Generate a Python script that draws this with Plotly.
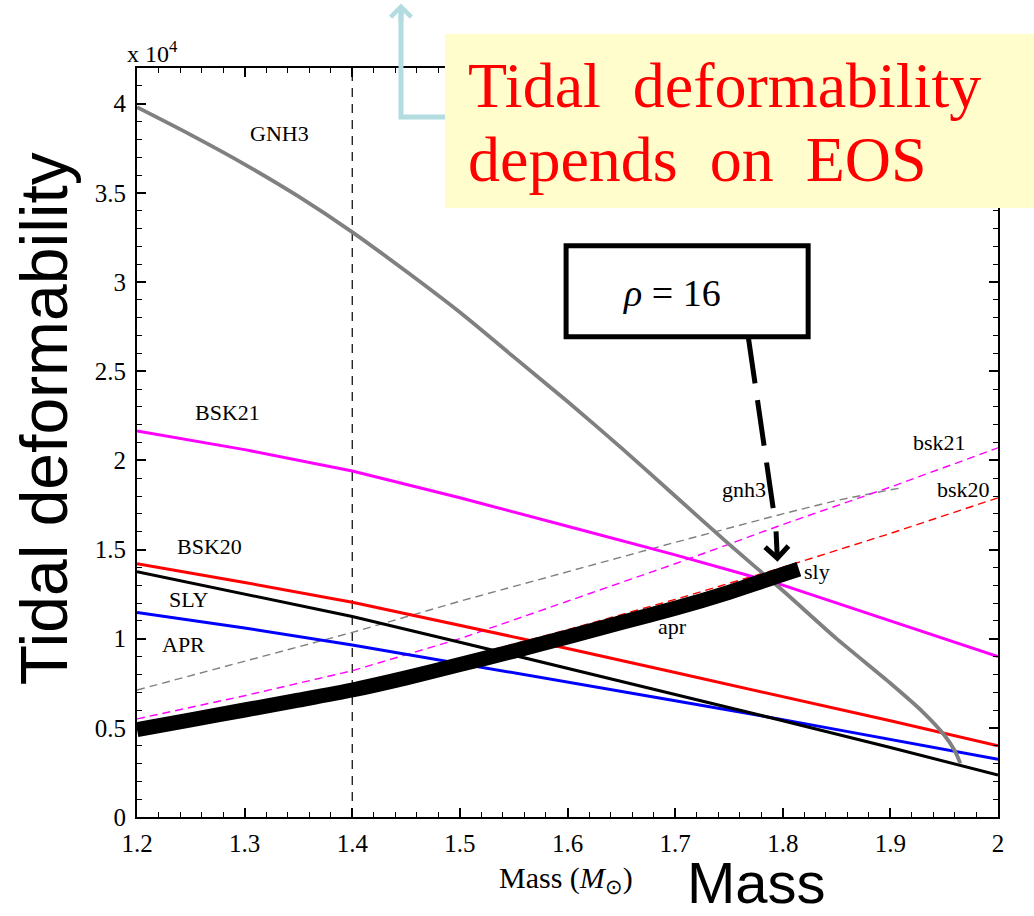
import plotly.graph_objects as go

# ---------------- data (tidal deformability in units of 10^4) ----------------
mass_grid = [1.2, 1.3, 1.4, 1.5, 1.6, 1.7, 1.8, 1.9, 2.0]

mass_gnh3 = [1.20, 1.25, 1.30, 1.35, 1.40, 1.45, 1.50, 1.55, 1.60, 1.65, 1.70,
             1.75, 1.80, 1.85, 1.90, 1.93, 1.95, 1.96, 1.965]
lam_gnh3 = [3.98, 3.825, 3.66, 3.48, 3.28, 3.06, 2.83, 2.58, 2.33, 2.07, 1.80,
            1.53, 1.27, 1.00, 0.75, 0.59, 0.46, 0.37, 0.30]

lam_bsk21 = [2.165, 2.06, 1.94, 1.79, 1.63, 1.47, 1.30, 1.10, 0.90]
lam_bsk20 = [1.42, 1.315, 1.204, 1.075, 0.945, 0.81, 0.675, 0.54, 0.40]
lam_sly = [1.376, 1.25, 1.124, 0.98, 0.835, 0.687, 0.54, 0.39, 0.235]
lam_apr = [1.147, 1.06, 0.965, 0.862, 0.757, 0.652, 0.546, 0.433, 0.324]

# dashed curves
mass_gnh3_d = [1.2, 1.3, 1.4, 1.5, 1.6, 1.7, 1.8, 1.85, 1.9, 1.91]
lam_gnh3_d = [0.712, 0.875, 1.035, 1.21, 1.375, 1.54, 1.70, 1.775, 1.835, 1.845]
lam_bsk21_d = [0.55, 0.68, 0.82, 1.00, 1.21, 1.42, 1.64, 1.85, 2.07]
lam_bsk20_d = [0.50, 0.62, 0.74, 0.89, 1.05, 1.22, 1.40, 1.59, 1.79]

# thick rho = 16 curve
mass_rho = [1.2, 1.25, 1.3, 1.35, 1.4, 1.45, 1.5, 1.55, 1.6, 1.65, 1.7, 1.75, 1.8, 1.815]
lam_rho = [0.49, 0.545, 0.60, 0.655, 0.712, 0.78, 0.855, 0.93, 1.01, 1.09, 1.17, 1.26, 1.36, 1.39]

x_ticks = [1.2, 1.3, 1.4, 1.5, 1.6, 1.7, 1.8, 1.9, 2.0]
x_ticktext = ["1.2", "1.3", "1.4", "1.5", "1.6", "1.7", "1.8", "1.9", "2"]
y_ticks = [0, 0.5, 1, 1.5, 2, 2.5, 3, 3.5, 4]
y_ticktext = ["0", "0.5", "1", "1.5", "2", "2.5", "3", "3.5", "4"]

# curve labels: (text, mass, lambda)
curve_labels = [
    ("GNH3", 1.332, 3.83), ("BSK21", 1.284, 2.27), ("BSK20", 1.267, 1.515),
    ("SLY", 1.248, 1.217), ("APR", 1.243, 0.97),
    ("gnh3", 1.764, 1.835), ("bsk21", 1.946, 2.10), ("bsk20", 1.968, 1.835),
    ("sly", 1.832, 1.375), ("apr", 1.698, 1.066),
]

SERIF = "Liberation Serif, Times New Roman, serif"
SANS = "Liberation Sans, Arial, sans-serif"

fig = go.Figure()

dash_thin = "8px,5px"
fig.add_trace(go.Scatter(x=mass_gnh3_d, y=lam_gnh3_d, mode="lines",
                         line=dict(color="#808080", width=1.4, dash=dash_thin)))
fig.add_trace(go.Scatter(x=mass_grid, y=lam_bsk21_d, mode="lines",
                         line=dict(color="#FF00FF", width=1.4, dash=dash_thin)))
fig.add_trace(go.Scatter(x=mass_grid, y=lam_bsk20_d, mode="lines",
                         line=dict(color="#FF0000", width=1.4, dash=dash_thin)))

fig.add_trace(go.Scatter(x=mass_grid, y=lam_apr, mode="lines",
                         line=dict(color="#0000FF", width=3)))
fig.add_trace(go.Scatter(x=mass_grid, y=lam_sly, mode="lines",
                         line=dict(color="#000000", width=3)))
fig.add_trace(go.Scatter(x=mass_grid, y=lam_bsk20, mode="lines",
                         line=dict(color="#FF0000", width=3)))
fig.add_trace(go.Scatter(x=mass_grid, y=lam_bsk21, mode="lines",
                         line=dict(color="#FF00FF", width=3)))
fig.add_trace(go.Scatter(x=mass_gnh3, y=lam_gnh3, mode="lines",
                         line=dict(color="#808080", width=3.8, shape="spline", smoothing=0.6)))
fig.add_trace(go.Scatter(x=mass_rho, y=lam_rho, mode="lines",
                         line=dict(color="#000000", width=15, shape="spline", smoothing=0.6)))

# vertical dashed line at 1.4 Msun
fig.add_shape(type="line", xref="x", yref="y", x0=1.4, x1=1.4, y0=0, y1=4.2,
              line=dict(color="black", width=1.2, dash="9px,7px"), layer="below")

# curve labels
for txt, mx, ly in curve_labels:
    fig.add_annotation(x=mx, y=ly, xref="x", yref="y", text=txt, showarrow=False,
                       xanchor="center", yanchor="middle",
                       font=dict(family=SERIF, size=22, color="black"))

# x 10^4
fig.add_annotation(x=0.018, y=1.0214, xref="paper", yref="paper", text="x 10<sup>4</sup>",
                   xanchor="center", yanchor="middle",
                   showarrow=False, font=dict(family=SERIF, size=24, color="black"))

# axis title (serif)
fig.add_annotation(x=0.498, y=-0.0841, xref="paper", yref="paper",
                   xanchor="center", yanchor="middle",
                   text="Mass (<i>M</i><sub>⊙</sub>)", showarrow=False,
                   font=dict(family=SERIF, size=30, color="black"))

# big sans labels
fig.add_annotation(x=0.72, y=-0.0868, xref="paper", yref="paper", text="Mass",
                   xanchor="center", yanchor="middle",
                   showarrow=False, font=dict(family=SANS, size=58, color="black"))
fig.add_annotation(x=-0.108, y=0.531, xref="paper", yref="paper", text="Tidal deformability",
                   xanchor="center", yanchor="middle",
                   textangle=-90, showarrow=False,
                   font=dict(family=SANS, size=66, color="black"))

# teal elbow arrow (behind yellow box)
fig.add_shape(type="path", xref="paper", yref="paper",
              path="M 0.3577,0.9346 L 0.3066,0.9346 L 0.3066,1.075",
              line=dict(color="#B3DCE0", width=5))
fig.add_annotation(x=0.3066, y=1.086, xref="paper", yref="paper", text="",
                   showarrow=True, ax=0, ay=20, arrowhead=4, arrowsize=0.8,
                   arrowwidth=5, arrowcolor="#B3DCE0", standoff=0)

# yellow box
fig.add_shape(type="rect", xref="paper", yref="paper", x0=0.3577, x1=1.05,
              y0=0.8131, y1=1.0454, fillcolor="#FFFDCC", line=dict(width=0))
fig.add_annotation(x=0.382, y=0.9773, xref="paper", yref="paper", xanchor="left",
                   yanchor="middle",
                   text="Tidal\u00a0\u00a0deformability", showarrow=False,
                   font=dict(family=SERIF, size=64, color="#FF0000"))
fig.add_annotation(x=0.382, y=0.8772, xref="paper", yref="paper", xanchor="left",
                   yanchor="middle",
                   text="depends\u00a0\u00a0on\u00a0\u00a0EOS", showarrow=False,
                   font=dict(family=SERIF, size=64, color="#FF0000"))

# rho = 16 box
fig.add_shape(type="rect", xref="x", yref="y", x0=1.5987, x1=1.8236, y0=2.693, y1=3.203,
              fillcolor="white", line=dict(color="black", width=5))
fig.add_annotation(x=1.697, y=2.94, xref="x", yref="y", text="<i>ρ</i> = 16",
                   xanchor="center", yanchor="middle",
                   showarrow=False, font=dict(family=SERIF, size=38, color="black"))
# dashed pointer
fig.add_shape(type="line", xref="x", yref="y", x0=1.7681, y0=2.687, x1=1.792, y1=1.694,
              line=dict(color="black", width=5, dash="46px,17px"))
fig.add_annotation(x=1.7951, y=1.431, xref="x", yref="y", text="", showarrow=True,
                   ax=-1.5, ay=-32, arrowhead=4, arrowsize=0.9, arrowwidth=5,
                   arrowcolor="black", standoff=0)

axis_common = dict(showline=True, linecolor="black", linewidth=2, mirror="ticks",
                   ticks="inside", ticklen=9, tickwidth=1.5, tickcolor="black",
                   showgrid=False, zeroline=False,
                   tickfont=dict(family=SERIF, size=25, color="black"))

fig.update_xaxes(range=[1.2, 2.0], tickvals=x_ticks, ticktext=x_ticktext,
                 minor=dict(ticks="inside", dtick=0.02, ticklen=5, tickwidth=1.2,
                            tickcolor="black", showgrid=False),
                 ticklabelstandoff=3, **axis_common)
fig.update_yaxes(range=[0, 4.2], tickvals=y_ticks, ticktext=y_ticktext,
                 minor=dict(ticks="inside", dtick=0.1, ticklen=5, tickwidth=1.2,
                            tickcolor="black", showgrid=False),
                 ticklabelstandoff=4, **axis_common)

fig.update_layout(width=1034, height=916, showlegend=False,
                  margin=dict(l=137, r=36, t=68, b=99),
                  plot_bgcolor="white", paper_bgcolor="white")

fig.write_html("out.html")
